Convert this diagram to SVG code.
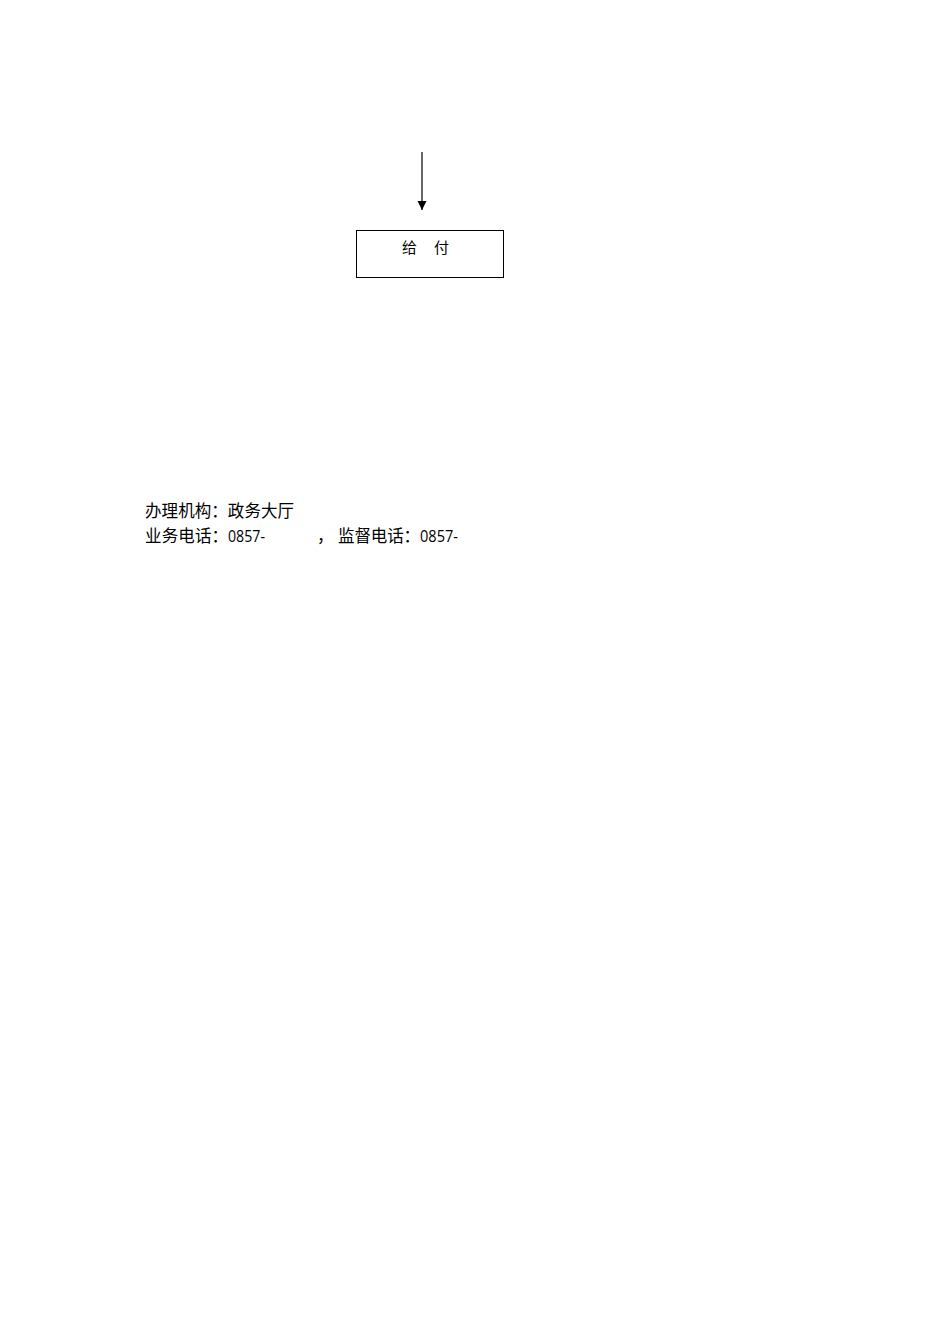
<svg xmlns="http://www.w3.org/2000/svg" width="950" height="1344" viewBox="0 0 950 1344">
<style>
.t{font-family:"Noto Sans CJK SC","Noto Sans",sans-serif;fill:#000}
.l{font-family:"Open Sans","Noto Sans CJK SC",sans-serif;fill:#000}
</style>
<defs><marker id="ah" markerWidth="10" markerHeight="10" refX="9" refY="5" orient="auto" markerUnits="userSpaceOnUse"><path d="M0,0.5 L9,5 L0,9.5 Z" fill="#000"/></marker></defs>
<rect width="950" height="1344" fill="#fff"/>
<g id="connectors"><line x1="422" y1="152" x2="422" y2="210" stroke="#000" stroke-width="1.2" marker-end="url(#ah)"/></g>
<g id="node-payment"><rect x="356.5" y="230.5" width="147" height="47" fill="#fff" stroke="#000" stroke-width="1"/>
<text class="t" x="402" y="253" font-size="15">给</text><text class="t" x="434" y="253" font-size="15">付</text></g>
<g id="footer">
<text class="t" x="145" y="517" font-size="16.5" textLength="149" lengthAdjust="spacing">办理机构：政务大厅</text>
<text class="t" x="145" y="542" font-size="16.5" textLength="83" lengthAdjust="spacing">业务电话：</text>
<text class="l" x="228" y="542" font-size="15.5" textLength="37" lengthAdjust="spacingAndGlyphs">0857-</text>
<text class="t" x="317" y="542" font-size="16.5">，</text>
<text class="t" x="338" y="542" font-size="16.5" textLength="82" lengthAdjust="spacing">监督电话：</text>
<text class="l" x="420" y="542" font-size="15.5" textLength="38" lengthAdjust="spacingAndGlyphs">0857-</text>
</g>
</svg>
